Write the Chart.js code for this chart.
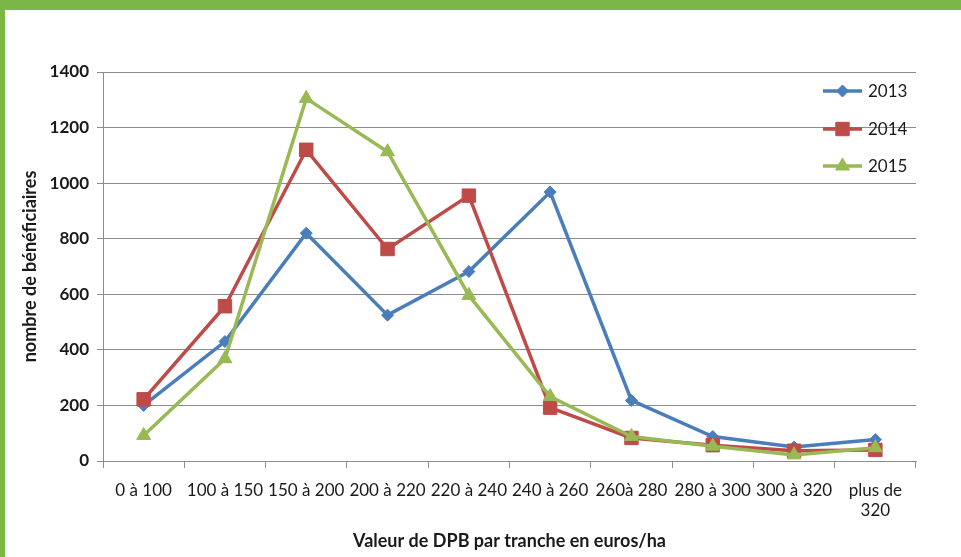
<!DOCTYPE html>
<html>
<head>
<meta charset="utf-8">
<script src="https://cdn.jsdelivr.net/npm/chart.js@4"></script>
<style>
  html, body { margin: 0; padding: 0; background: #ffffff; }
  #frame { position: absolute; left: 0; top: 0; width: 961px; height: 557px; background: #7AB648; }
  #box { position: absolute; left: 5px; top: 10px; width: 956px; height: 547px; background: #ffffff; }
</style>
</head>
<body>
<div id="frame"><div id="box"><canvas id="c"></canvas></div></div>
<script>
const categories = ['0 à 100', '100 à 150', '150 à 200', '200 à 220', '220 à 240', '240 à 260', '260à 280', '280 à 300', '300 à 320', ['plus de', '320']];
const series2013 = [200, 430, 820, 525, 682, 968, 218, 88, 50, 77];
const series2014 = [222, 557, 1120, 763, 955, 192, 83, 57, 37, 40];
const series2015 = [92, 368, 1305, 1113, 596, 232, 88, 53, 22, 48];
const seriesNames = ['2013', '2014', '2015'];
const yTicks = [0, 200, 400, 600, 800, 1000, 1200, 1400];

const BLUE = '#4A7EBB', RED = '#BE4B48', GREEN = '#98B954';
const GRID = '#8C8C8C';
const FONT = 'Lato, "Open Sans", sans-serif';

const legendPlugin = {
  id: 'sideLegend',
  afterDraw(chart) {
    const ctx = chart.ctx;
    const ca = chart.chartArea;
    const x0 = ca.right - 93, x1 = ca.right - 54, tx = ca.right - 48;
    const ys = [ca.top + 19, ca.top + 57, ca.top + 94];
    chart.data.datasets.forEach((ds, i) => {
      const y = ys[i];
      ctx.save();
      ctx.strokeStyle = ds.borderColor;
      ctx.lineWidth = ds.borderWidth;
      ctx.beginPath();
      ctx.moveTo(x0, y); ctx.lineTo(x1, y);
      ctx.stroke();
      ctx.fillStyle = ds.pointBackgroundColor;
      ctx.strokeStyle = ds.pointBorderColor;
      ctx.lineWidth = 1;
      if (Chart.helpers && Chart.helpers.drawPoint) {
        Chart.helpers.drawPoint(ctx, { pointStyle: ds.pointStyle, radius: ds.pointRadius, borderWidth: 1, rotation: 0 }, (x0 + x1) / 2, y);
      }
      ctx.fillStyle = '#1a1a1a';
      ctx.font = '17px ' + FONT;
      ctx.textBaseline = 'middle';
      ctx.textAlign = 'left';
      ctx.fillText(ds.label, tx, y + 1);
      ctx.restore();
    });
  }
};

function mkDs(label, data, color, style, radius, order) {
  return {
    label, data, order,
    borderColor: color, backgroundColor: color,
    pointBackgroundColor: color, pointBorderColor: color,
    borderWidth: 3.5, pointStyle: style, pointRadius: radius, pointHoverRadius: radius,
    pointBorderWidth: 1, tension: 0, fill: false
  };
}

new Chart(document.getElementById('c'), {
  type: 'line',
  data: {
    labels: categories,
    datasets: [
      mkDs(seriesNames[0], series2013, BLUE, 'rectRot', 6, 3),
      mkDs(seriesNames[1], series2014, RED, 'rect', 9.5, 2),
      mkDs(seriesNames[2], series2015, GREEN, 'triangle', 8, 1)
    ]
  },
  options: {
    responsive: true,
    maintainAspectRatio: false,
    animation: false,
    layout: { padding: { top: 62, right: 45, bottom: 0, left: 0 } },
    plugins: { legend: { display: false }, tooltip: { enabled: false } },
    scales: {
      x: {
        offset: true,
        grid: { offset: true, drawOnChartArea: false, drawTicks: true, tickLength: 7, color: GRID, lineWidth: 1 },
        border: { display: true, color: GRID, width: 1 },
        ticks: { autoSkip: false, maxRotation: 0, minRotation: 0, color: '#1a1a1a', font: { family: FONT, size: 17 }, padding: 12 },
        title: { display: true, text: 'Valeur de DPB par tranche en euros/ha', color: '#1a1a1a', font: { family: FONT, size: 18, weight: 'bold' }, padding: { top: 0, bottom: 5 } },
        afterFit(scale) { scale.height = 96; }
      },
      y: {
        min: 0, max: 1400,
        afterBuildTicks(scale) { scale.ticks = yTicks.map(v => ({ value: v })); },
        grid: { color: GRID, lineWidth: 1, drawTicks: true, tickLength: 6 },
        border: { display: true, color: GRID, width: 1 },
        ticks: { color: '#1a1a1a', font: { family: FONT, size: 17, weight: 'bold' }, padding: 8, callback: (v) => String(v) },
        title: { display: true, text: 'nombre de bénéficiaires', color: '#1a1a1a', font: { family: FONT, size: 18, weight: 'bold' }, padding: { top: 14, bottom: 0 } },
        afterFit(scale) { scale.width = 98; }
      }
    }
  },
  plugins: [legendPlugin]
});
</script>
</body>
</html>
